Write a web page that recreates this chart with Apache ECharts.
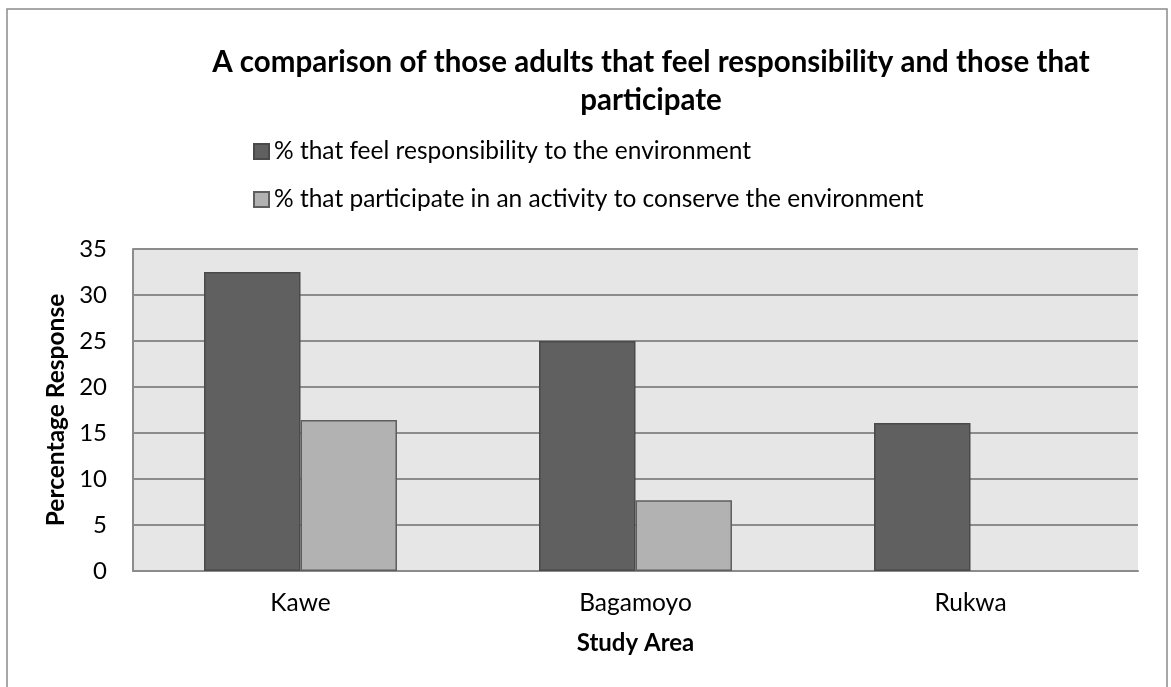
<!DOCTYPE html>
<html>
<head>
<meta charset="utf-8">
<script src="https://cdn.jsdelivr.net/npm/echarts@6/dist/echarts.min.js"></script>
<style>
  html, body { margin: 0; padding: 0; background: #ffffff; }
  #chart { width: 1171px; height: 687px; }
</style>
</head>
<body>
<div id="chart"></div>
<script>
// Study areas along the x axis
const studyAreas = ['Kawe', 'Bagamoyo', 'Rukwa'];

// Series names and percentages per study area
const responsibilityName = '% that feel responsibility to the environment';
const responsibilityValues = [32.5, 25.0, 16.1];

const participateName = '% that participate in an activity to conserve the environment';
const participateValues = [16.4, 7.7, 0];

// Y axis range
const yMin = 0;
const yMax = 35;
const yStep = 5;

const FONT = 'Lato, "Open Sans", sans-serif';

// Zero-height bars get no outline so they don't show as a stray line on the axis
function barData(values) {
  return values.map(v => (v === 0 ? { value: v, itemStyle: { borderWidth: 0 } } : v));
}

const chart = echarts.init(document.getElementById('chart'), null, { renderer: 'canvas' });

chart.setOption({
  backgroundColor: '#ffffff',
  animation: false,
  graphic: [
    {
      type: 'rect',
      silent: true,
      z: -10,
      shape: { x: 7, y: 9, width: 1160, height: 700 },
      style: { fill: 'none', stroke: '#8c8c8c', lineWidth: 1.5 }
    }
  ],
  title: {
    text: 'A comparison of those adults that feel responsibility and those that\nparticipate',
    left: 651,
    top: 43,
    padding: 0,
    textAlign: 'center',
    textStyle: {
      fontFamily: FONT,
      fontWeight: 'bold',
      fontSize: 29.5,
      lineHeight: 38,
      color: '#000000'
    }
  },
  legend: {
    orient: 'vertical',
    left: 253,
    top: 139,
    itemWidth: 15,
    itemHeight: 15,
    itemGap: 23,
    padding: 0,
    icon: 'rect',
    textStyle: { fontFamily: FONT, fontSize: 24.5, color: '#000000' },
    data: [responsibilityName, participateName]
  },
  grid: {
    left: 133,
    right: 33,
    top: 249,
    bottom: 116,
    show: true,
    backgroundColor: '#e6e6e6',
    borderWidth: 0
  },
  xAxis: {
    type: 'category',
    data: studyAreas,
    name: 'Study Area',
    nameLocation: 'middle',
    nameGap: 60,
    nameTextStyle: { fontFamily: FONT, fontWeight: 'bold', fontSize: 24, color: '#000000' },
    axisLine: { lineStyle: { color: '#8c8c8c', width: 2 } },
    axisTick: { show: false },
    axisLabel: { fontFamily: FONT, fontSize: 24.5, color: '#000000', margin: 20 }
  },
  yAxis: {
    type: 'value',
    min: yMin,
    max: yMax,
    interval: yStep,
    name: 'Percentage Response',
    nameLocation: 'middle',
    nameGap: 56,
    nameTextStyle: { fontFamily: FONT, fontWeight: 'bold', fontSize: 24.5, color: '#000000' },
    axisLine: { show: true, lineStyle: { color: '#8c8c8c', width: 2 } },
    axisTick: { show: false },
    axisLabel: { fontFamily: FONT, fontSize: 24, color: '#000000', margin: 26 },
    splitLine: { show: true, lineStyle: { color: '#8c8c8c', width: 2 } }
  },
  series: [
    {
      name: responsibilityName,
      type: 'bar',
      data: barData(responsibilityValues),
      barGap: '0%',
      barCategoryGap: '42.4%',
      itemStyle: { color: '#606060', borderColor: '#4a4a4a', borderWidth: 1.5 }
    },
    {
      name: participateName,
      type: 'bar',
      data: barData(participateValues),
      itemStyle: { color: '#b2b2b2', borderColor: '#5e5e5e', borderWidth: 1.5 }
    }
  ]
});
</script>
</body>
</html>
